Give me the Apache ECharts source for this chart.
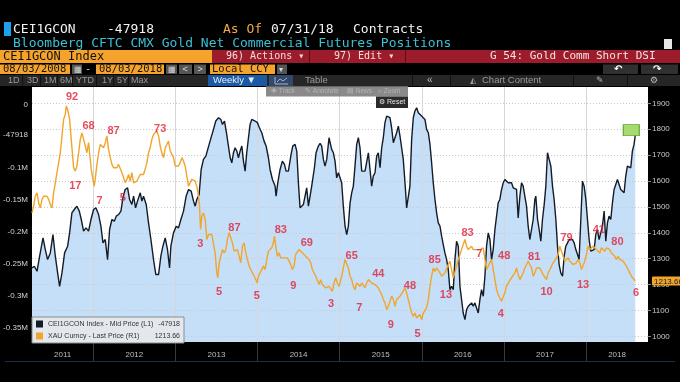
<!DOCTYPE html>
<html><head><meta charset="utf-8">
<script src="https://cdn.jsdelivr.net/npm/echarts@6/dist/echarts.min.js"></script>
<style>html,body{margin:0;padding:0;background:#000;}#c{width:680px;height:382px;}</style>
</head><body><div id="c"></div>
<script>
// ---------------- DATA ----------------
// CFTC gold net commercial futures position (contracts), x = decimal year
const cotPoints = [
[2011.254,-256400],[2011.282,-253700],[2011.315,-261600],[2011.347,-238000],[2011.388,-209200],[2011.416,-227600],[2011.444,-243300],[2011.477,-232800],[2011.509,-204000],[2011.538,-238000],[2011.566,-264200],[2011.590,-285200],[2011.619,-264200],[2011.651,-232800],[2011.688,-222300],[2011.712,-201400],[2011.740,-169900],[2011.769,-164700],[2011.801,-159500],[2011.830,-167300],[2011.854,-180400],[2011.882,-198700],[2011.911,-193500],[2011.943,-198700],[2011.972,-180400],
[2012.004,-164700],[2012.032,-162100],[2012.065,-172600],[2012.093,-190900],[2012.118,-217100],[2012.146,-211800],[2012.174,-243300],[2012.199,-196100],[2012.227,-180400],[2012.256,-183000],[2012.280,-175200],[2012.308,-172600],[2012.337,-167300],[2012.361,-146400],[2012.389,-133300],[2012.418,-130700],[2012.442,-149000],[2012.470,-156800],[2012.491,-143800],[2012.515,-162100],[2012.539,-151600],[2012.572,-138500],[2012.592,-151600],[2012.612,-143800],[2012.645,-156800],[2012.673,-185700],[2012.702,-211800],[2012.734,-243300],[2012.762,-266800],[2012.795,-266800],[2012.823,-238000],[2012.848,-222300],[2012.876,-209200],[2012.904,-227600],[2012.929,-256400],[2012.945,-222300],[2012.977,-201400],
[2013.010,-190900],[2013.038,-193500],[2013.067,-180400],[2013.099,-167300],[2013.131,-143800],[2013.160,-133300],[2013.192,-135900],[2013.221,-151600],[2013.241,-159500],[2013.261,-149000],[2013.289,-141100],[2013.314,-101900],[2013.342,-86100],[2013.371,-80900],[2013.395,-80900],[2013.411,-62600],[2013.435,-60000],[2013.464,-39000],[2013.492,-25900],[2013.525,-20700],[2013.553,-23300],[2013.573,-31200],[2013.598,-25900],[2013.622,-44300],[2013.646,-65200],[2013.667,-83500],[2013.687,-91400],[2013.707,-75700],[2013.727,-67800],[2013.748,-73100],[2013.768,-83500],[2013.788,-73100],[2013.809,-65200],[2013.829,-88800],[2013.849,-104500],[2013.869,-75700],[2013.890,-52100],[2013.910,-31200],[2013.930,-23300],[2013.950,-25900],[2013.971,-25900],[2013.999,-28500],
[2014.023,-36400],[2014.052,-44300],[2014.080,-57400],[2014.105,-65200],[2014.133,-83500],[2014.153,-101900],[2014.182,-117600],[2014.214,-128000],[2014.226,-143800],[2014.247,-122800],[2014.275,-101900],[2014.303,-88800],[2014.328,-94000],[2014.348,-104500],[2014.376,-104500],[2014.409,-78300],[2014.429,-65200],[2014.457,-62600],[2014.478,-73100],[2014.498,-122800],[2014.518,-162100],[2014.538,-164700],[2014.559,-156800],[2014.579,-154200],[2014.599,-130700],[2014.620,-159500],[2014.640,-156800],[2014.660,-128000],[2014.693,-99200],[2014.713,-75700],[2014.741,-65200],[2014.762,-61000],[2014.782,-65200],[2014.802,-86100],[2014.822,-96600],[2014.843,-86100],[2014.871,-52100],[2014.887,-52100],[2014.903,-70400],[2014.924,-75700],[2014.944,-88800],[2014.964,-115000],[2014.985,-107100],
[2015.005,-107100],[2015.025,-122800],[2015.045,-159500],[2015.066,-190900],[2015.086,-204000],[2015.106,-190900],[2015.127,-154200],[2015.147,-138500],[2015.167,-128000],[2015.187,-96600],[2015.208,-62600],[2015.228,-52100],[2015.248,-67800],[2015.269,-104500],[2015.289,-107100],[2015.309,-104500],[2015.329,-107100],[2015.350,-75700],[2015.370,-75700],[2015.390,-128000],[2015.410,-112300],[2015.431,-107100],[2015.451,-80900],[2015.471,-75700],[2015.492,-99200],[2015.512,-67800],[2015.532,-52100],[2015.552,-28500],[2015.573,-18100],[2015.593,-15500],[2015.613,-20700],[2015.633,-36400],[2015.654,-60000],[2015.674,-52100],[2015.694,-44300],[2015.715,-33800],[2015.735,-49500],[2015.755,-67800],[2015.775,-86100],[2015.796,-122800],[2015.816,-162100],[2015.836,-164700],[2015.856,-128000],[2015.877,-54700],[2015.897,-20700],[2015.917,-10200],[2015.938,-5000],[2015.958,-12800],[2015.978,-10200],[2015.998,-18100],
[2016.019,-15500],[2016.039,-23300],[2016.059,-39000],[2016.080,-44300],[2016.100,-62600],[2016.120,-91400],[2016.140,-122800],[2016.161,-149000],[2016.181,-169900],[2016.201,-185700],[2016.222,-190900],[2016.242,-206600],[2016.262,-219700],[2016.282,-232800],[2016.303,-243300],[2016.323,-259000],[2016.343,-290400],[2016.363,-285200],[2016.384,-290400],[2016.404,-243300],[2016.424,-214500],[2016.445,-222300],[2016.465,-285200],[2016.485,-306100],[2016.505,-327100],[2016.526,-337500],[2016.546,-321800],[2016.566,-316600],[2016.586,-319200],[2016.607,-311300],[2016.627,-316600],[2016.647,-311300],[2016.668,-313900],[2016.688,-327100],[2016.708,-306100],[2016.728,-290400],[2016.749,-300900],[2016.769,-269400],[2016.789,-222300],[2016.810,-201400],[2016.830,-211800],[2016.850,-243300],[2016.870,-227600],[2016.891,-196100],[2016.911,-175200],[2016.931,-154200],[2016.951,-149000],[2016.972,-133300],[2016.992,-122800],
[2017.012,-117600],[2017.032,-120200],[2017.053,-122800],[2017.073,-125400],[2017.093,-122800],[2017.114,-130700],[2017.134,-128000],[2017.154,-133300],[2017.174,-177800],[2017.195,-143800],[2017.215,-122800],[2017.235,-128000],[2017.255,-143800],[2017.276,-159500],[2017.296,-190900],[2017.316,-211800],[2017.337,-211800],[2017.357,-180400],[2017.377,-149000],[2017.389,-143800],[2017.410,-180400],[2017.430,-196100],[2017.450,-214500],[2017.470,-180400],[2017.491,-156800],[2017.511,-128000],[2017.531,-75700],[2017.551,-73100],[2017.572,-96600],[2017.592,-128000],[2017.612,-149000],[2017.633,-180400],[2017.653,-222300],[2017.673,-251100],[2017.693,-264200],[2017.714,-269400],[2017.734,-238000],[2017.754,-222300],[2017.775,-217100],[2017.795,-211800],[2017.815,-209200],[2017.835,-211800],[2017.856,-217100],[2017.876,-227600],[2017.904,-238000],[2017.916,-243300],[2017.937,-180400],[2017.957,-120200],[2017.977,-128000],[2017.998,-149000],
[2018.018,-180400],[2018.038,-211800],[2018.058,-230200],[2018.079,-232800],[2018.099,-227600],[2018.119,-204000],[2018.139,-196100],[2018.160,-211800],[2018.180,-201400],[2018.200,-190900],[2018.221,-167300],[2018.241,-214500],[2018.261,-185700],[2018.281,-175200],[2018.302,-180400],[2018.322,-154200],[2018.342,-133300],[2018.362,-130700],[2018.383,-117600],[2018.403,-115000],[2018.423,-133300],[2018.444,-135900],[2018.464,-138500],[2018.484,-112300],[2018.504,-96600],[2018.525,-94000],[2018.545,-99200],[2018.565,-73100],[2018.585,-62600],[2018.600,-47918]
];

// XAU spot price (USD/oz), x = decimal year
const goldPoints = [
[2011.254,1477],[2011.274,1503],[2011.294,1541],[2011.315,1554],[2011.335,1516],[2011.355,1496],[2011.376,1529],[2011.396,1541],[2011.416,1548],[2011.436,1541],[2011.457,1529],[2011.477,1509],[2011.497,1496],[2011.517,1554],[2011.538,1593],[2011.558,1632],[2011.578,1670],[2011.599,1709],[2011.619,1774],[2011.639,1838],[2011.659,1857],[2011.672,1890],[2011.692,1870],[2011.712,1838],[2011.728,1774],[2011.749,1696],[2011.761,1651],[2011.781,1638],[2011.801,1658],[2011.822,1709],[2011.842,1761],[2011.862,1786],[2011.882,1793],[2011.903,1735],[2011.923,1709],[2011.943,1748],[2011.955,1709],[2011.976,1645],[2011.996,1606],
[2012.012,1580],[2012.028,1619],[2012.045,1664],[2012.065,1709],[2012.085,1741],[2012.105,1735],[2012.126,1728],[2012.146,1748],[2012.166,1774],[2012.186,1722],[2012.207,1690],[2012.227,1664],[2012.247,1651],[2012.268,1658],[2012.288,1651],[2012.308,1664],[2012.328,1658],[2012.349,1632],[2012.369,1625],[2012.389,1593],[2012.409,1606],[2012.430,1625],[2012.450,1599],[2012.470,1632],[2012.491,1593],[2012.511,1587],[2012.531,1599],[2012.551,1593],[2012.572,1625],[2012.592,1619],[2012.612,1625],[2012.632,1645],[2012.653,1670],[2012.673,1709],[2012.693,1728],[2012.714,1761],[2012.734,1780],[2012.754,1786],[2012.774,1793],[2012.795,1774],[2012.815,1735],[2012.835,1709],[2012.856,1690],[2012.876,1728],[2012.896,1741],[2012.916,1754],[2012.937,1716],[2012.957,1709],[2012.977,1690],[2012.998,1658],
[2013.018,1664],[2013.038,1658],[2013.058,1670],[2013.079,1690],[2013.099,1677],[2013.119,1658],[2013.139,1619],[2013.160,1580],[2013.180,1587],[2013.200,1606],[2013.221,1612],[2013.241,1599],[2013.261,1580],[2013.281,1541],[2013.294,1503],[2013.306,1413],[2013.322,1464],[2013.342,1477],[2013.363,1451],[2013.383,1374],[2013.403,1393],[2013.423,1393],[2013.444,1393],[2013.464,1387],[2013.484,1322],[2013.504,1245],[2013.517,1226],[2013.533,1284],[2013.553,1309],[2013.573,1335],[2013.594,1322],[2013.614,1335],[2013.634,1374],[2013.654,1400],[2013.675,1400],[2013.695,1361],[2013.715,1329],[2013.736,1335],[2013.756,1335],[2013.776,1309],[2013.796,1284],[2013.817,1348],[2013.837,1361],[2013.857,1322],[2013.877,1297],[2013.898,1271],[2013.918,1258],[2013.938,1245],[2013.959,1232],[2013.979,1219],[2013.995,1206],
[2014.011,1232],[2014.032,1245],[2014.052,1251],[2014.072,1271],[2014.092,1258],[2014.113,1297],[2014.133,1329],[2014.153,1335],[2014.173,1342],[2014.194,1361],[2014.206,1387],[2014.222,1348],[2014.242,1309],[2014.263,1322],[2014.283,1303],[2014.303,1309],[2014.324,1303],[2014.344,1309],[2014.364,1303],[2014.384,1297],[2014.405,1277],[2014.425,1258],[2014.445,1271],[2014.465,1316],[2014.486,1322],[2014.506,1335],[2014.526,1342],[2014.547,1322],[2014.567,1316],[2014.587,1309],[2014.607,1303],[2014.628,1297],[2014.648,1284],[2014.668,1258],[2014.688,1245],[2014.709,1232],[2014.729,1226],[2014.749,1200],[2014.769,1219],[2014.790,1200],[2014.810,1206],[2014.830,1187],[2014.851,1180],[2014.871,1193],[2014.891,1187],[2014.911,1174],[2014.932,1206],[2014.952,1226],[2014.972,1206],[2014.993,1193],
[2015.025,1232],[2015.045,1264],[2015.066,1297],[2015.086,1303],[2015.106,1264],[2015.127,1232],[2015.147,1219],[2015.167,1193],[2015.187,1180],[2015.208,1206],[2015.228,1213],[2015.248,1193],[2015.269,1206],[2015.289,1200],[2015.309,1187],[2015.329,1206],[2015.350,1219],[2015.370,1226],[2015.390,1206],[2015.410,1200],[2015.431,1200],[2015.451,1206],[2015.471,1187],[2015.492,1174],[2015.512,1161],[2015.532,1142],[2015.552,1129],[2015.573,1103],[2015.593,1116],[2015.613,1135],[2015.633,1155],[2015.654,1142],[2015.674,1116],[2015.694,1142],[2015.715,1135],[2015.735,1155],[2015.755,1161],[2015.775,1174],[2015.796,1187],[2015.816,1168],[2015.836,1142],[2015.856,1116],[2015.877,1090],[2015.897,1077],[2015.917,1090],[2015.938,1071],[2015.958,1077],[2015.978,1084],[2015.998,1064],
[2016.019,1090],[2016.039,1084],[2016.059,1110],[2016.080,1142],[2016.100,1193],[2016.120,1232],[2016.140,1264],[2016.161,1251],[2016.181,1264],[2016.201,1264],[2016.222,1245],[2016.242,1232],[2016.262,1226],[2016.282,1245],[2016.303,1238],[2016.323,1277],[2016.343,1290],[2016.363,1258],[2016.384,1226],[2016.404,1232],[2016.424,1271],[2016.445,1297],[2016.465,1316],[2016.485,1335],[2016.505,1355],[2016.526,1374],[2016.546,1348],[2016.566,1335],[2016.586,1342],[2016.607,1348],[2016.627,1335],[2016.647,1342],[2016.668,1335],[2016.688,1329],[2016.708,1335],[2016.728,1329],[2016.749,1342],[2016.769,1297],[2016.789,1258],[2016.810,1271],[2016.830,1284],[2016.850,1297],[2016.870,1258],[2016.891,1219],[2016.911,1180],[2016.931,1161],[2016.951,1148],[2016.972,1135],[2016.992,1142],
[2017.012,1168],[2017.032,1193],[2017.053,1206],[2017.073,1213],[2017.093,1226],[2017.114,1232],[2017.134,1245],[2017.154,1264],[2017.174,1238],[2017.195,1219],[2017.215,1226],[2017.235,1245],[2017.255,1264],[2017.276,1277],[2017.296,1290],[2017.316,1284],[2017.337,1264],[2017.357,1232],[2017.377,1245],[2017.397,1264],[2017.418,1271],[2017.438,1264],[2017.458,1251],[2017.478,1238],[2017.499,1232],[2017.519,1219],[2017.539,1245],[2017.560,1258],[2017.580,1264],[2017.600,1284],[2017.620,1290],[2017.641,1303],[2017.661,1316],[2017.681,1348],[2017.701,1342],[2017.722,1309],[2017.742,1290],[2017.762,1297],[2017.783,1303],[2017.803,1290],[2017.823,1297],[2017.843,1277],[2017.864,1277],[2017.884,1284],[2017.904,1297],[2017.925,1284],[2017.945,1258],[2017.965,1264],[2017.985,1290],
[2018.006,1316],[2018.026,1348],[2018.046,1335],[2018.066,1329],[2018.087,1348],[2018.107,1342],[2018.127,1335],[2018.148,1329],[2018.168,1322],[2018.188,1342],[2018.208,1335],[2018.229,1329],[2018.249,1342],[2018.269,1348],[2018.290,1335],[2018.310,1322],[2018.330,1316],[2018.350,1309],[2018.371,1297],[2018.391,1309],[2018.411,1297],[2018.431,1303],[2018.452,1290],[2018.472,1284],[2018.492,1271],[2018.512,1258],[2018.533,1245],[2018.553,1232],[2018.573,1226],[2018.600,1213.66]
];

// Daily Sentiment Index annotations: [decimal year, price position, DSI value]
const dsiLabels = [
[2011.741,1924,'92'],[2011.943,1812,'68'],[2012.247,1793,'87'],[2011.781,1580,'17'],[2012.077,1522,'7'],[2012.361,1535,'5'],[2012.815,1799,'73'],
[2013.302,1355,'3'],[2013.719,1419,'87'],[2013.533,1171,'5'],[2013.991,1155,'5'],[2014.283,1410,'83'],[2014.437,1193,'9'],[2014.600,1361,'69'],[2014.895,1123,'3'],
[2015.147,1309,'65'],[2015.471,1242,'44'],[2015.240,1109,'7'],[2015.622,1042,'9'],[2015.856,1196,'48'],[2015.950,1010,'5'],[2016.157,1294,'85'],[2016.294,1161,'13'],
[2016.558,1400,'83'],[2016.700,1317,'7'],[2017.004,1309,'48'],[2016.964,1086,'4'],[2017.369,1307,'81'],[2017.520,1171,'10'],[2017.763,1380,'79'],[2017.965,1200,'13'],
[2018.156,1409,'41'],[2018.383,1364,'80'],[2018.610,1167,'6']
];

const yearBoundaries = [2012, 2013, 2014, 2015, 2016, 2017, 2018];
const yearLabelPositions = [2011.627, 2012.5, 2013.5, 2014.5, 2015.5, 2016.5, 2017.5, 2018.378];
const priceTicks = [1000, 1100, 1200, 1300, 1400, 1500, 1600, 1700, 1800, 1900];
const cotTicks = [0, -100000, -150000, -200000, -250000, -300000, -350000];

const COT_NAME = 'CEI1GCON Index - Mid Price (L1)';
const GOLD_NAME = 'XAU Curncy - Last Price (R1)';
const TITLE = 'Bloomberg CFTC CMX Gold Net Commercial Futures Positions';

// axis extents
const X_MIN = 2011.254, X_MAX = 2018.755;
const COT_MIN = -372600, COT_MAX = 27500;
const PRICE_MIN = 978, PRICE_MAX = 1963;

// ---------------- CHART ----------------
const lastCot = cotPoints[cotPoints.length - 1];
const lastGold = goldPoints[goldPoints.length - 1];
const cotLabelValues = [cotTicks[0], lastCot[1]].concat(cotTicks.slice(1));

const MONO = '"DejaVu Sans Mono", monospace';
const SANS = '"Liberation Sans", Arial, sans-serif';
function T(text, x, y, fill, font, extra) {
  return {type: 'text', x: x, y: y, silent: true, z: 50,
    style: Object.assign({text: text, fill: fill, font: font, verticalAlign: 'middle', align: 'left'}, extra || {})};
}
function R(x, y, w, h, fill, extra) {
  return Object.assign({type: 'rect', silent: true, z: 49, shape: {x: x, y: y, width: w, height: h}, style: {fill: fill}}, extra || {});
}
function L(x1, y1, x2, y2, stroke) {
  return {type: 'line', silent: true, z: 50, shape: {x1: x1, y1: y1, x2: x2, y2: y2}, style: {stroke: stroke, lineWidth: 1}};
}

const F13 = '13px ' + MONO, F12 = '12px ' + MONO, F11 = '11px ' + MONO, F10 = '10.5px ' + MONO;
const FT = '9px ' + SANS;
const ORANGE_BOX = '#f6a32b';
const graphics = [
  // row 1
  R(4, 22, 7, 14, '#1ea0ea'),
  T('CEI1GCON', 13, 29.5, '#f2f2f2', F13),
  T(String(lastCot[1]), 107, 29.5, '#f2f2f2', F13),
  T('As Of', 223, 29.5, '#f0a848', F13),
  T('07/31/18', 271, 29.5, '#f2f2f2', F13),
  T('Contracts', 353, 29.5, '#f2f2f2', F13),
  // row 2
  T(TITLE, 13, 43.5, '#3bc0d6', F13),
  R(664, 39, 8, 10, '#e6e6e6'),
  // row 3
  R(0, 50, 212, 13, ORANGE_BOX),
  T('CEI1GCON Index', 3, 56.5, '#111', F12),
  R(212, 50, 468, 13, '#9c1c2c'),
  L(309.5, 50, 309.5, 63, '#5e0c18'), L(405.5, 50, 405.5, 63, '#5e0c18'),
  T('96) Actions \u25BE', 226, 56.5, '#f2dede', '10px ' + MONO),
  T('97) Edit \u25BE', 334, 56.5, '#f2dede', '10px ' + MONO),
  T('G 54: Gold Comm Short DSI', 490, 56.5, '#f4e4e4', F11),
  // row 4
  R(0, 64.5, 70, 9.5, ORANGE_BOX), T('08/03/2008', 3, 69.5, '#111', F10),
  R(72, 64.5, 10, 9.5, '#555'), T('\u25A6', 73.5, 69.5, '#ddd', '8px ' + SANS),
  T('-', 85, 69.5, '#ccc', F10),
  R(96, 64.5, 68, 9.5, ORANGE_BOX), T('08/03/2018', 99, 69.5, '#111', F10),
  R(166, 64.5, 11, 9.5, '#555'), T('\u25A6', 168, 69.5, '#ddd', '8px ' + SANS),
  R(179, 64.5, 13, 9.5, '#555'), T('<', 182.5, 69.5, '#ddd', '9px ' + SANS),
  R(194, 64.5, 12, 9.5, '#555'), T('>', 197.5, 69.5, '#ddd', '9px ' + SANS),
  R(210, 64.5, 65, 9.5, ORANGE_BOX), T('Local CCY', 212, 69.5, '#111', F10),
  R(277, 64.5, 10, 9.5, '#555'), T('\u25BE', 279, 69.5, '#ddd', '8px ' + SANS),
  R(603, 64.5, 35, 9.5, '#303030'), T('\u21B6', 614, 69.5, '#fff', 'bold 10px "DejaVu Sans"'),
  R(641, 64.5, 37, 9.5, '#303030'), T('\u21B7', 653, 69.5, '#fff', 'bold 10px "DejaVu Sans"'),
  // row 5
  R(0, 75, 680, 11, '#262626'),
  T('1D', 8, 80.5, '#9a9a9a', FT), T('3D', 27, 80.5, '#9a9a9a', FT), T('1M', 44, 80.5, '#9a9a9a', FT),
  T('6M', 60, 80.5, '#9a9a9a', FT), T('YTD', 76, 80.5, '#9a9a9a', FT), T('1Y', 102, 80.5, '#9a9a9a', FT),
  T('5Y', 117, 80.5, '#9a9a9a', FT), T('Max', 131, 80.5, '#9a9a9a', FT),
  L(22.5, 75, 22.5, 86, '#111'), L(40.5, 75, 40.5, 86, '#111'), L(57.5, 75, 57.5, 86, '#111'), L(72.5, 75, 72.5, 86, '#111'),
  L(96.5, 75, 96.5, 86, '#111'), L(113.5, 75, 113.5, 86, '#111'), L(128.5, 75, 128.5, 86, '#111'),
  R(208, 75, 59, 11, '#1c5aa6'), T('Weekly \u25BC', 213, 80.5, '#e8eef8', '9.5px ' + SANS),
  R(269, 75, 24, 11, '#34496a'),
  {type: 'polyline', silent: true, z: 50, shape: {points: [[275, 77], [275, 84], [288, 84]]}, style: {stroke: '#9fb4d0', fill: null, lineWidth: 1}},
  {type: 'polyline', silent: true, z: 50, shape: {points: [[277, 82], [280, 79], [283, 81], [287, 78]]}, style: {stroke: '#9fb4d0', fill: null, lineWidth: 1}},
  T('Table', 305, 80.5, '#9a9a9a', '9.5px ' + SANS),
  L(412.5, 75, 412.5, 86, '#111'), L(450.5, 75, 450.5, 86, '#111'), L(573.5, 75, 573.5, 86, '#111'), L(627.5, 75, 627.5, 86, '#111'),
  T('\u00AB', 427, 80.5, '#bbb', '10px ' + SANS),
  T('\u25ED', 470, 80.5, '#9a9a9a', '8px "DejaVu Sans"'),
  T('Chart Content', 482, 80.5, '#9a9a9a', '9.5px ' + SANS),
  T('\u270E', 596, 80.5, '#bbb', '9px "DejaVu Sans"'),
  T('\u2699', 650, 80.5, '#bbb', '9px "DejaVu Sans"'),
  // in-plot toolbar overlay
  R(266, 86, 142, 10.5, 'rgba(118,118,118,0.85)', {z: 60}),
  Object.assign(T('\u271A Track', 271, 91.3, '#b2b2b2', '6.5px ' + SANS), {z: 61}),
  Object.assign(T('\u270E Annotate', 305, 91.3, '#b2b2b2', '6.5px ' + SANS), {z: 61}),
  Object.assign(T('\u25A4 News', 347, 91.3, '#b2b2b2', '6.5px ' + SANS), {z: 61}),
  Object.assign(T('\u2315 Zoom', 378, 91.3, '#b2b2b2', '6.5px ' + SANS), {z: 61}),
  R(376, 96.5, 32, 11.5, '#2a2a2a', {z: 60}),
  Object.assign(T('\u2699 Reset', 379, 102.3, '#e6e6e6', '7px ' + SANS), {z: 61}),
  // bottom rule
  L(5, 361.5, 675, 361.5, '#1b2f4a')
];

const legendValues = {};
legendValues[COT_NAME] = String(lastCot[1]);
legendValues[GOLD_NAME] = lastGold[1].toFixed(2);

const option = {
  backgroundColor: '#000',
  animation: false,
  textStyle: {fontFamily: SANS},
  grid: {left: 32, right: 32, top: 87, bottom: 40, show: true, backgroundColor: '#ffffff', borderWidth: 0,
    containLabel: false, outerBoundsMode: 'none'},
  legend: {
    data: [COT_NAME, GOLD_NAME], orient: 'vertical', left: 32, top: 317, z: 6,
    icon: 'rect', itemWidth: 7, itemHeight: 7, itemGap: 2, padding: [2, 4, 2, 4],
    backgroundColor: '#e3e8ee', borderColor: '#8c8c8c', borderWidth: 1, selectedMode: false,
    formatter: function (name) { return '{n|' + name + '}{v|' + legendValues[name] + '}'; },
    textStyle: {fontSize: 7, color: '#333', lineHeight: 10,
      rich: {n: {width: 106, fontSize: 7, color: '#333'}, v: {width: 26, align: 'right', fontSize: 7, color: '#333'}}}
  },
  xAxis: {
    type: 'value', min: X_MIN, max: X_MAX, splitNumber: 8, z: 1.5, position: 'bottom',
    axisLine: {show: false, onZero: false},
    splitLine: {show: true, lineStyle: {color: '#d6d6d6', width: 1}},
    axisTick: {show: true, customValues: yearBoundaries, length: 19, lineStyle: {color: '#3a3a3a'}},
    axisLabel: {customValues: yearLabelPositions, formatter: function (v) { return String(Math.floor(v)); },
      color: '#bdbdbd', fontSize: 8, margin: 9}
  },
  yAxis: [
    {type: 'value', min: COT_MIN, max: COT_MAX, position: 'left',
      splitLine: {show: false}, axisLine: {show: false, onZero: false}, axisTick: {show: false},
      axisLabel: {customValues: cotLabelValues, color: '#d2d2d2', fontSize: 8, margin: 4,
        formatter: function (v) {
          if (v === 0) return '0';
          if (v % 50000 === 0) return (v / 1e6) + 'M';
          return String(v);
        }}},
    {type: 'value', min: PRICE_MIN, max: PRICE_MAX, position: 'right', splitNumber: 10, z: 1.5,
      splitLine: {show: true, lineStyle: {color: '#c9c9c9', type: [1, 2], width: 1}}, axisLine: {show: false, onZero: false},
      axisTick: {show: true, customValues: priceTicks, length: 3, lineStyle: {color: '#8a8a8a'}},
      axisLabel: {customValues: priceTicks.concat([lastGold[1]]), color: '#c8c8c8', fontSize: 8, margin: 4,
        formatter: function (v) { return Number.isInteger(v) ? String(v) : '{tag|' + v.toFixed(2) + '}'; },
        rich: {tag: {backgroundColor: '#f2a52c', color: '#1a1a1a', padding: [1, 2, 0, 2], borderRadius: 1, fontSize: 8}}}}
  ],
  series: [
    {type: 'line', name: 'cotArea', data: cotPoints, yAxisIndex: 0, showSymbol: false, silent: true, z: 1,
      lineStyle: {width: 0}, areaStyle: {color: '#c5dff8', origin: 'start', opacity: 1}},
    {type: 'line', name: COT_NAME, data: cotPoints, yAxisIndex: 0, showSymbol: false, z: 3,
      lineStyle: {color: '#141b28', width: 1.4}, itemStyle: {color: '#141b28'},
      markPoint: {silent: true, symbol: 'rect', symbolSize: [16, 11], symbolOffset: [-4, -5], label: {show: false},
        itemStyle: {color: '#a9da70', borderColor: '#63a832', borderWidth: 1},
        data: [{coord: [lastCot[0], lastCot[1]]}]}},
    {type: 'line', name: GOLD_NAME, data: goldPoints, yAxisIndex: 1, showSymbol: false, z: 3,
      lineStyle: {color: '#f2a52c', width: 1.4}, itemStyle: {color: '#f2a52c'}},
    {type: 'scatter', name: 'DSI', data: dsiLabels, yAxisIndex: 1, symbolSize: 0, z: 4, silent: true,
      encode: {x: 0, y: 1},
      label: {show: true, position: 'inside', formatter: function (p) { return p.value[2]; },
        color: '#e0203a', fontWeight: 'bold', fontSize: 11, fontFamily: SANS}}
  ],
  graphic: graphics
};

const chart = echarts.init(document.getElementById('c'), null, {renderer: 'canvas'});
chart.setOption(option);
</script>
</body></html>
